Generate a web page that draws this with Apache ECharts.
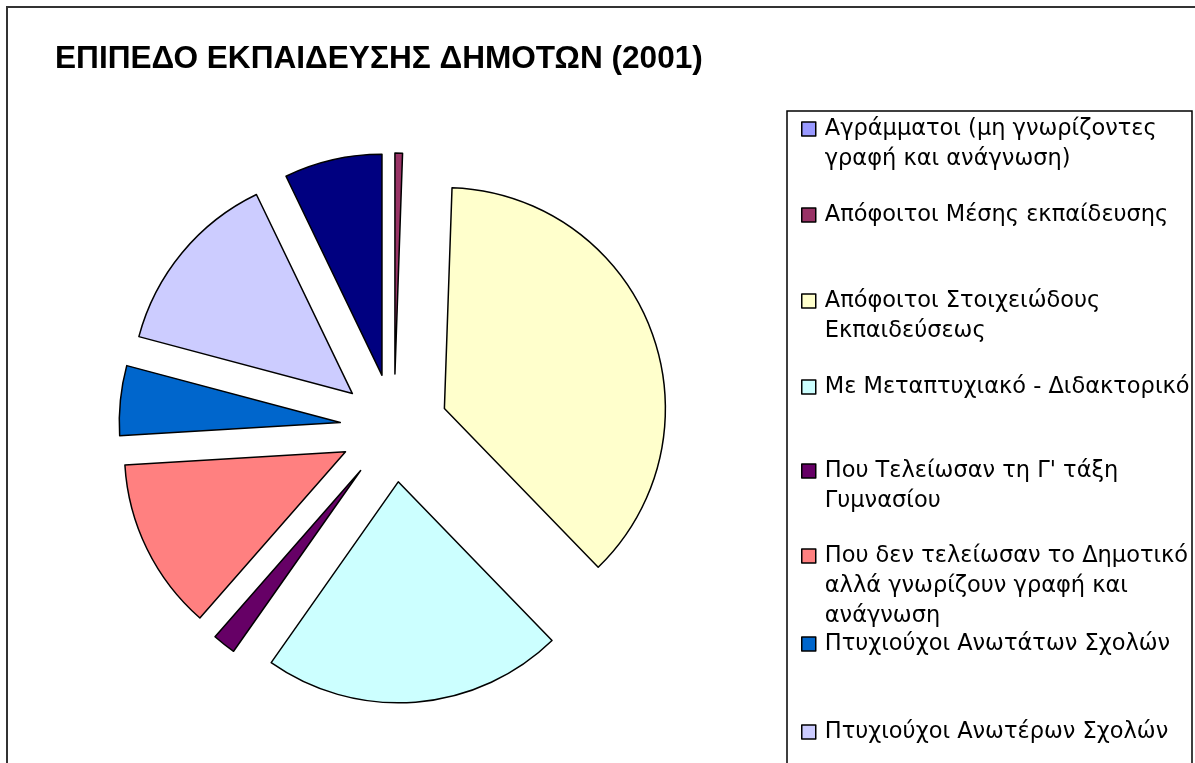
<!DOCTYPE html>
<html>
<head>
<meta charset="utf-8">
<script src="https://cdn.jsdelivr.net/npm/echarts@6/dist/echarts.min.js"></script>
<style>
  html, body { margin: 0; padding: 0; background: #fff; }
  #chart { position: absolute; left: 0; top: 0; width: 1195px; height: 763px; }
  #frame { position: absolute; left: 6px; top: 6px; right: -10px; bottom: -10px;
           border-left: 2px solid #333; border-top: 2px solid #333; pointer-events: none; }
</style>
</head>
<body>
<div id="chart"></div>
<div id="frame"></div>
<script>
const titleText = 'ΕΠΙΠΕΔΟ ΕΚΠΑΙΔΕΥΣΗΣ ΔΗΜΟΤΩΝ (2001)';
const categories = [
  'Αγράμματοι (μη γνωρίζοντες γραφή και ανάγνωση)',
  'Απόφοιτοι Μέσης εκπαίδευσης',
  'Απόφοιτοι Στοιχειώδους Εκπαιδεύσεως',
  'Με Μεταπτυχιακό - Διδακτορικό',
  "Που Τελείωσαν τη Γ' τάξη Γυμνασίου",
  'Που δεν τελείωσαν το Δημοτικό αλλά γνωρίζουν γραφή και ανάγνωση',
  'Πτυχιούχοι Ανωτάτων Σχολών',
  'Πτυχιούχοι Ανωτέρων Σχολών',
  'Πτυχιούχοι Μεταδευτεροβάθμιας Εκπαίδευσης'
];
const legendText = [
  'Αγράμματοι (μη γνωρίζοντες\nγραφή και ανάγνωση)',
  'Απόφοιτοι Μέσης εκπαίδευσης',
  'Απόφοιτοι Στοιχειώδους\nΕκπαιδεύσεως',
  'Με Μεταπτυχιακό - Διδακτορικό',
  "Που Τελείωσαν τη Γ' τάξη\nΓυμνασίου",
  'Που δεν τελείωσαν το Δημοτικό\nαλλά γνωρίζουν γραφή και\nανάγνωση',
  'Πτυχιούχοι Ανωτάτων Σχολών',
  'Πτυχιούχοι Ανωτέρων Σχολών',
  'Πτυχιούχοι Μεταδευτεροβάθμιας\nΕκπαίδευσης'
];
const values = [0, 0.55, 37.2, 22.0, 1.7, 12.6, 5.1, 13.7, 7.15];
const colors = ['#9999FF', '#993366', '#FFFFCC', '#CCFFFF', '#660066', '#FF8080', '#0066CC', '#CCCCFF', '#000080'];

// layout (icon centre y of each legend entry, in px)
const legendRowCentres = [129, 215, 301, 387, 471, 556, 644, 732, 818];

const chart = echarts.init(document.getElementById('chart'), null, { renderer: 'canvas' });
const labelMap = {};
categories.forEach((c, i) => { labelMap[c] = legendText[i]; });

const pieData = categories.map((name, i) => ({
  name: name,
  value: values[i],
  selected: values[i] > 0,
  itemStyle: values[i] > 0 ? {} : { borderWidth: 0 }
}));

const legends = categories.map((name, i) => ({
  orient: 'vertical',
  left: 801,
  top: legendRowCentres[i] - 15,
  padding: 0,
  itemWidth: 14,
  itemHeight: 14,
  icon: 'rect',
  selectedMode: false,
  itemStyle: { borderColor: '#000', borderWidth: 1.5 },
  data: [name],
  formatter: n => labelMap[n],
  textStyle: {
    fontFamily: 'DejaVu Sans, sans-serif',
    fontSize: 22.5,
    color: '#000',
    lineHeight: 30,
    height: 30,
    padding: [0, 0, 0, 4],
    rich: { x: {} }
  }
}));

chart.setOption({
  animation: false,
  color: colors,
  title: {
    text: titleText,
    left: 50,
    top: 38,
    textStyle: { fontFamily: 'Liberation Sans, Arial, sans-serif', fontWeight: 'bold', fontSize: 31.6, color: '#000' }
  },
  legend: legends,
  graphic: [{
    type: 'rect',
    silent: true,
    z: -1,
    shape: { x: 787, y: 111, width: 405, height: 700 },
    style: { fill: 'none', stroke: '#000', lineWidth: 1.5 }
  }],
  series: [{
    type: 'pie',
    center: [394, 428],
    radius: 221,
    startAngle: 90,
    clockwise: true,
    selectedMode: 'multiple',
    selectedOffset: 54,
    label: { show: false },
    labelLine: { show: false },
    emphasis: { disabled: true },
    itemStyle: { borderColor: '#000', borderWidth: 1.5 },
    select: { itemStyle: { borderColor: '#000', borderWidth: 1.5 } },
    data: pieData
  }]
});
</script>
</body>
</html>
